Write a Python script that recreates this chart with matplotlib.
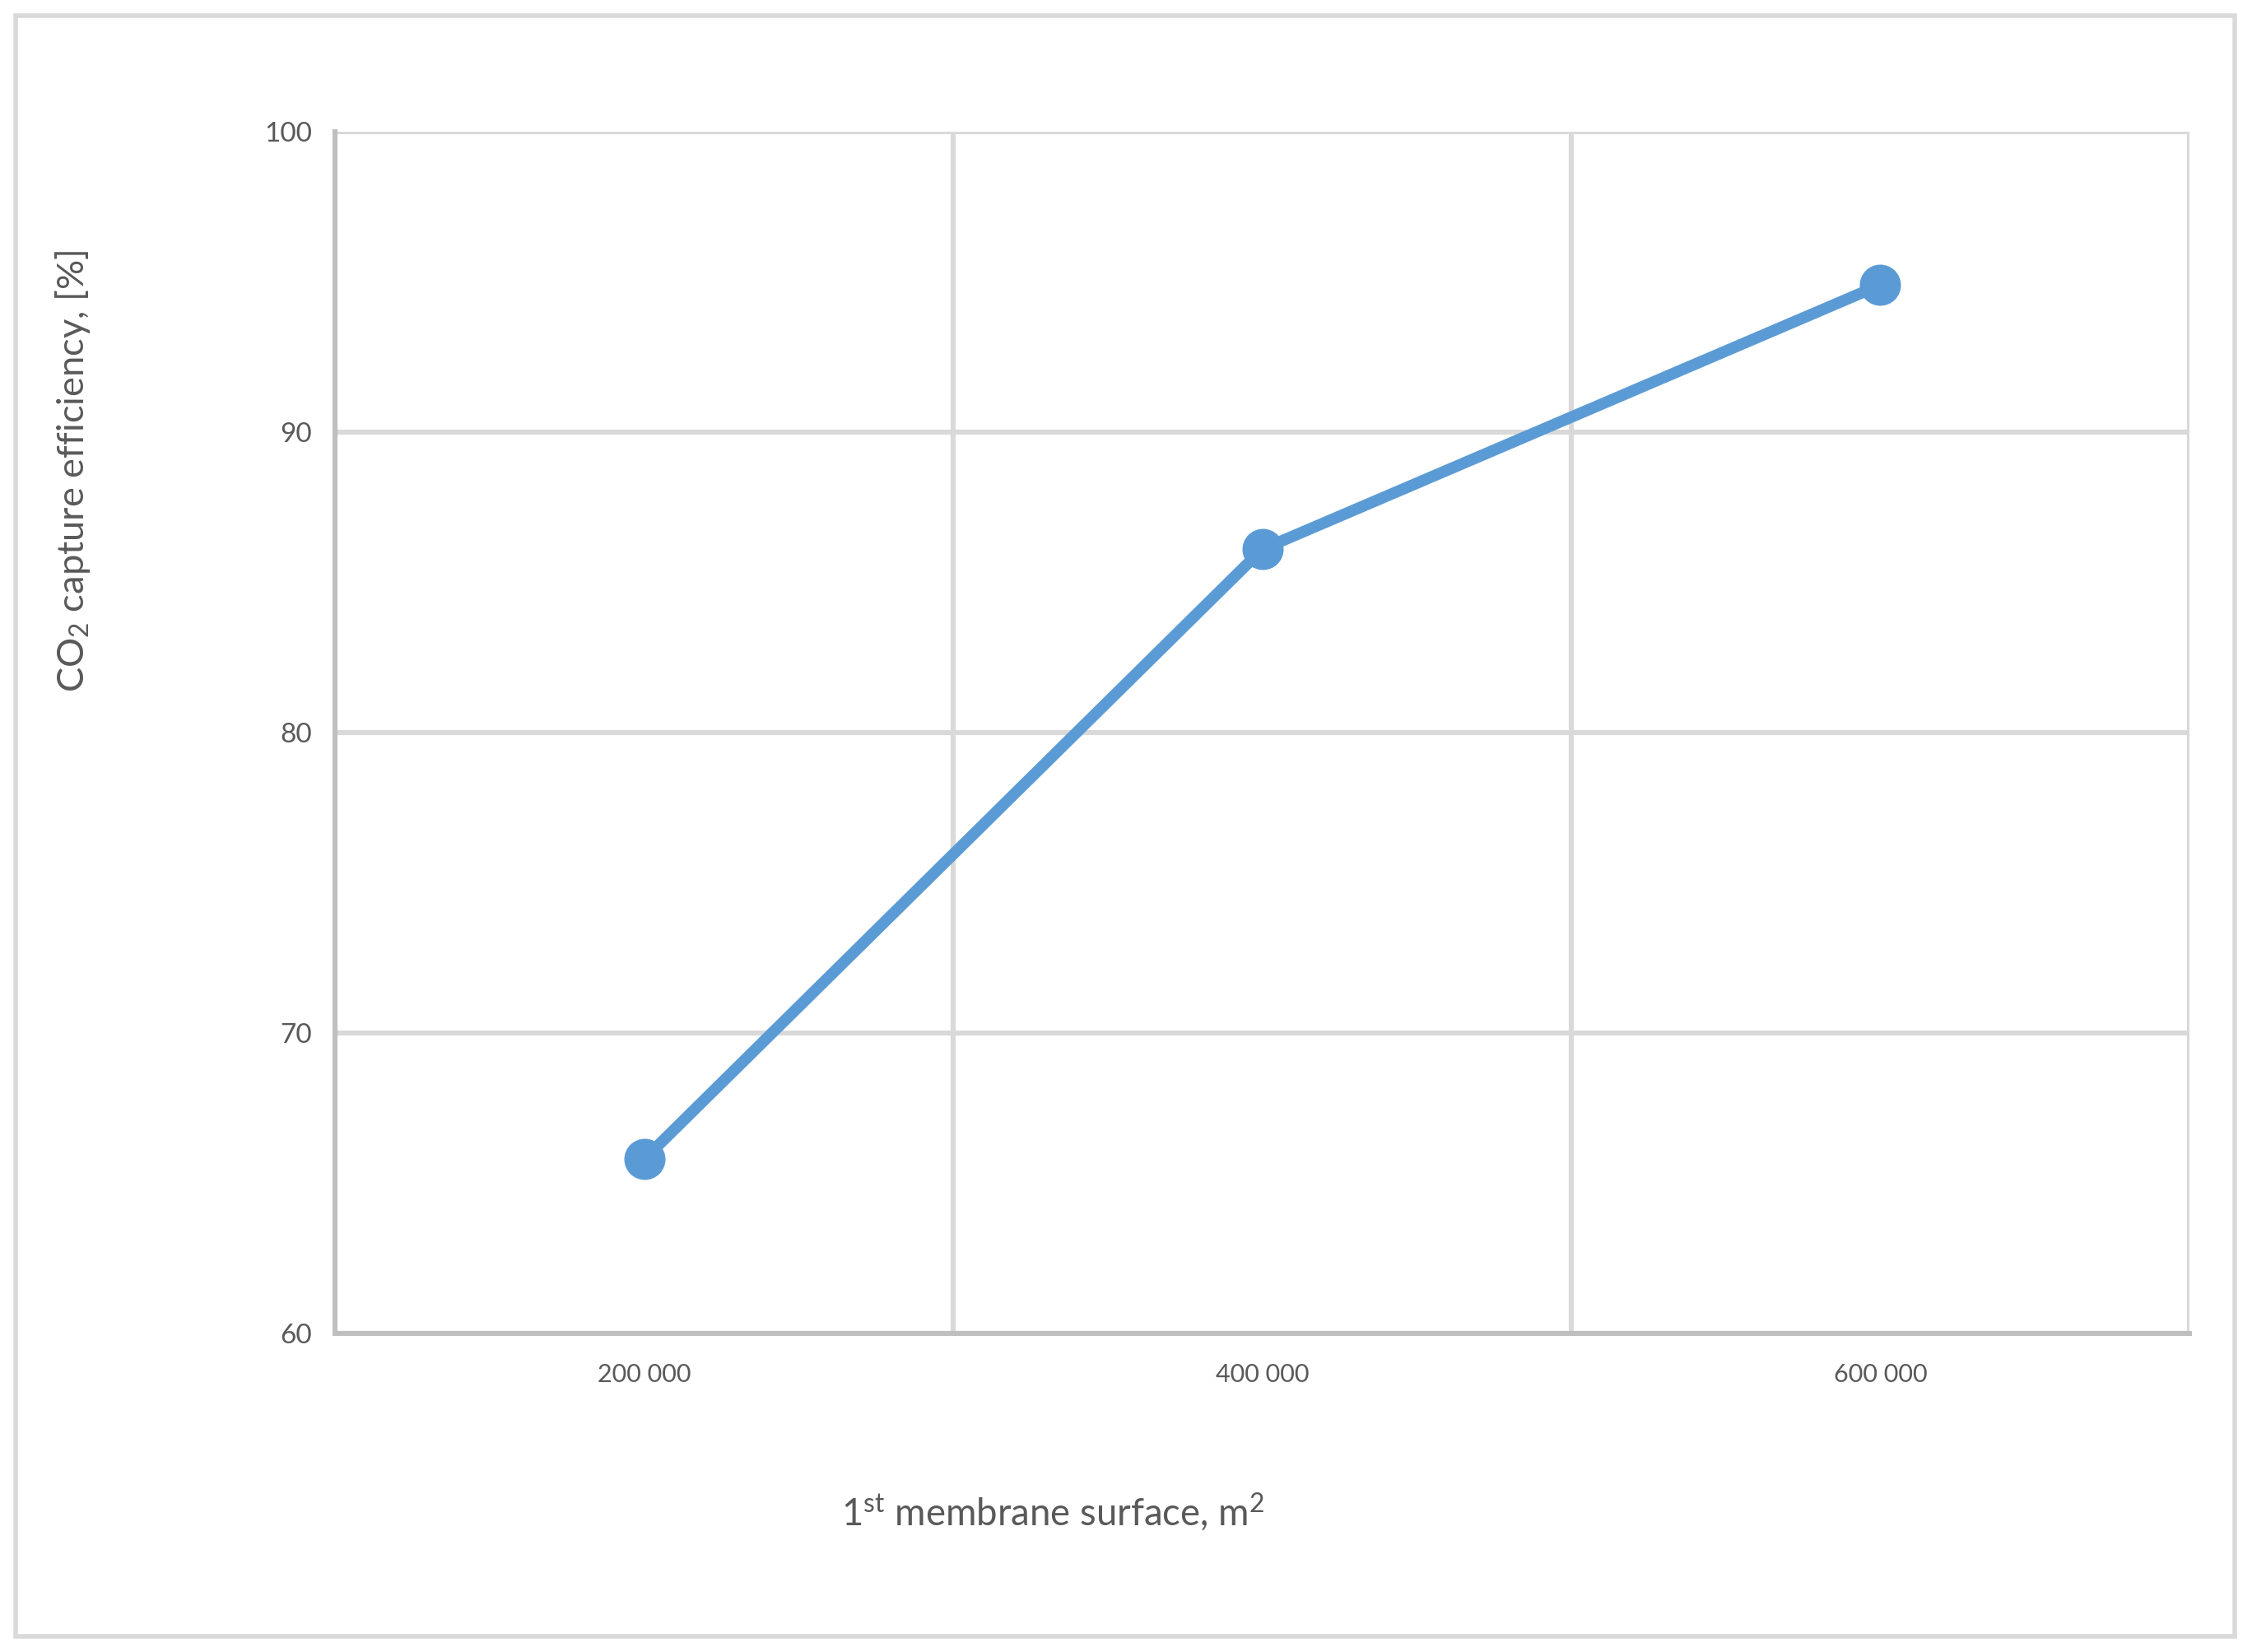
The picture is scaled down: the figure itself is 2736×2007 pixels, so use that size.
import matplotlib.pyplot as plt
from matplotlib.patches import Rectangle

# data
surface_labels = ['200 000', '400 000', '600 000']
capture_eff = [65.8, 86.1, 94.9]
y_ticks = [60, 70, 80, 90, 100]

plt.rcParams['font.family'] = ['Lato', 'DejaVu Sans']
plt.rcParams['mathtext.fontset'] = 'custom'
plt.rcParams['mathtext.rm'] = 'Lato'
plt.rcParams['mathtext.it'] = 'Lato'

txt = '#595959'
grid = '#d9d9d9'
spine = '#bfbfbf'

fig = plt.figure(figsize=(13.68, 10.035), dpi=200)
ax = fig.add_axes([0.1488, 0.1928, 0.9722 - 0.1488, 0.9203 - 0.1928])

x = list(range(len(surface_labels)))
ax.plot(x, capture_eff, color='#5b9bd5', lw=5, marker='o', ms=17,
        solid_capstyle='round', zorder=3)

ax.set_xlim(-0.5, len(surface_labels) - 0.5)
ax.set_ylim(60, 100)
ax.set_yticks(y_ticks)
ax.set_xticks(x)
ax.set_xticklabels(surface_labels, fontsize=11)
ax.set_xticks([i + 0.5 for i in x], minor=True)

ax.grid(True, axis='y', color=grid, lw=2.2)
ax.grid(True, axis='x', which='minor', color=grid, lw=2.2)
ax.tick_params(axis='both', which='both', length=0, colors=txt)
ax.tick_params(axis='y', pad=10, labelsize=12)
ax.tick_params(axis='x', pad=13)

for s in ['top', 'right']:
    ax.spines[s].set_visible(False)
for s in ['left', 'bottom']:
    ax.spines[s].set_color(spine)
    ax.spines[s].set_linewidth(2.2)
    ax.spines[s].set_zorder(4)

fig.text(0.0325, 0.715, r'CO$_2$ capture efficiency, [%]', rotation=90,
         ha='center', va='center', fontsize=16.3, color=txt)
fig.text(0.4675, 0.0845, r'1$^{\mathrm{st}}$ membrane surface, m$^2$',
         ha='center', va='center', fontsize=16.4, color=txt)

fig.patches.append(Rectangle((0.0069, 0.0095), 0.9854, 0.9810, transform=fig.transFigure,
                             fill=False, edgecolor=grid, lw=2))

fig.savefig('out.png', dpi=200, facecolor='white')
